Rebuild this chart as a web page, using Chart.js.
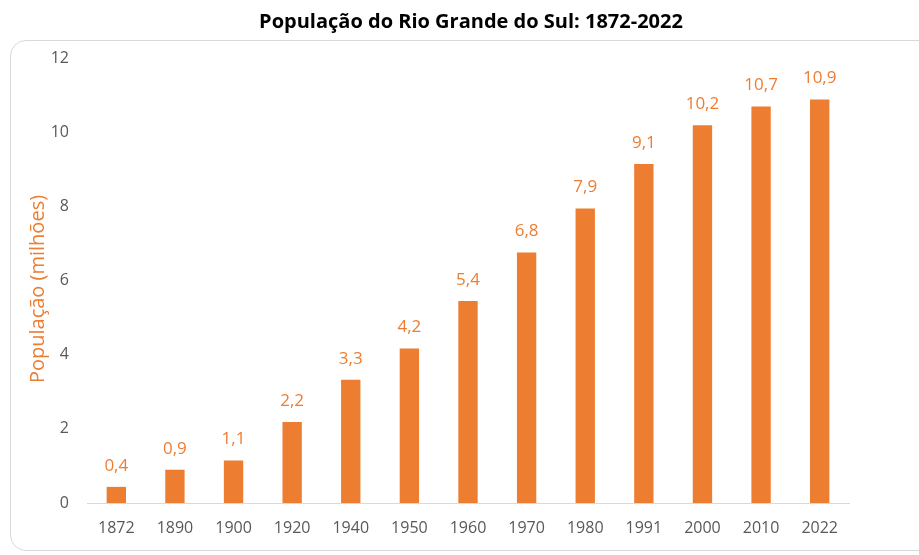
<!DOCTYPE html>
<html>
<head>
<meta charset="utf-8">
<script src="https://cdn.jsdelivr.net/npm/chart.js@4"></script>
<style>
  html, body { margin: 0; padding: 0; background: #fff; }
  #wrap { position: relative; width: 919px; height: 555px; overflow: hidden; }
  #frame {
    position: absolute; left: 10px; top: 40px; width: 930px; height: 511px;
    border: 1px solid #d9d9d9; border-radius: 16px; box-sizing: border-box;
  }
  canvas { position: absolute; left: 0; top: 0; }
</style>
</head>
<body>
<div id="wrap">
  <div id="frame"></div>
  <canvas id="myChart" width="919" height="555"></canvas>
</div>
<script>
// Anos dos censos
const years = ['1872', '1890', '1900', '1920', '1940', '1950', '1960', '1970', '1980', '1991', '2000', '2010', '2022'];
// População em milhões
const population = [0.435, 0.897, 1.149, 2.183, 3.321, 4.165, 5.449, 6.755, 7.943, 9.139, 10.188, 10.694, 10.883];
const yTicks = [0, 2, 4, 6, 8, 10, 12];

const TITLE = 'População do Rio Grande do Sul: 1872-2022';
const Y_TITLE = 'População (milhões)';
const ORANGE = '#ED7D31';
const FONT = "'Open Sans', Lato, sans-serif";

// Títulos e rótulos acima das barras (1 casa decimal, vírgula)
const barLabels = {
  id: 'barLabels',
  afterDatasetsDraw(chart) {
    const { ctx } = chart;
    const meta = chart.getDatasetMeta(0);
    ctx.save();
    ctx.fillStyle = ORANGE;
    ctx.font = `17px ${FONT}`;
    ctx.textAlign = 'center';
    ctx.textBaseline = 'middle';
    meta.data.forEach((bar, i) => {
      const txt = population[i].toFixed(1).replace('.', ',');
      ctx.fillText(txt, bar.x, bar.y - 21);
    });

    // título principal
    ctx.fillStyle = '#000';
    ctx.font = `bold 20px ${FONT}`;
    ctx.fillText(TITLE, 471, 22);

    // título do eixo Y
    ctx.translate(38, 289);
    ctx.rotate(-Math.PI / 2);
    ctx.fillStyle = ORANGE;
    ctx.font = `20px ${FONT}`;
    ctx.fillText(Y_TITLE, 0, 0);
    ctx.restore();
  }
};

const ctx = document.getElementById('myChart').getContext('2d');
new Chart(ctx, {
  type: 'bar',
  data: {
    labels: years,
    datasets: [{
      data: population,
      backgroundColor: ORANGE,
      barPercentage: 0.33,
      categoryPercentage: 1
    }]
  },
  options: {
    responsive: false,
    animation: false,
    layout: { padding: { left: 0, right: 70, top: 58, bottom: 0 } },
    plugins: {
      legend: { display: false },
      tooltip: { enabled: false },
      title: { display: false }
    },
    scales: {
      x: {
        grid: { display: false },
        border: { display: true, color: '#d9d9d9', width: 1 },
        ticks: { color: '#595959', font: { family: FONT, size: 16 }, padding: 8 },
        afterFit: s => { s.height = 52; }
      },
      y: {
        min: 0, max: 12,
        afterBuildTicks: s => { s.ticks = yTicks.map(v => ({ value: v })); },
        grid: { display: false, drawTicks: false },
        border: { display: false },
        ticks: { color: '#595959', font: { family: FONT, size: 16 }, padding: 18 },
        afterFit: s => { s.width = 87; }
      }
    }
  },
  plugins: [barLabels]
});
</script>
</body>
</html>
